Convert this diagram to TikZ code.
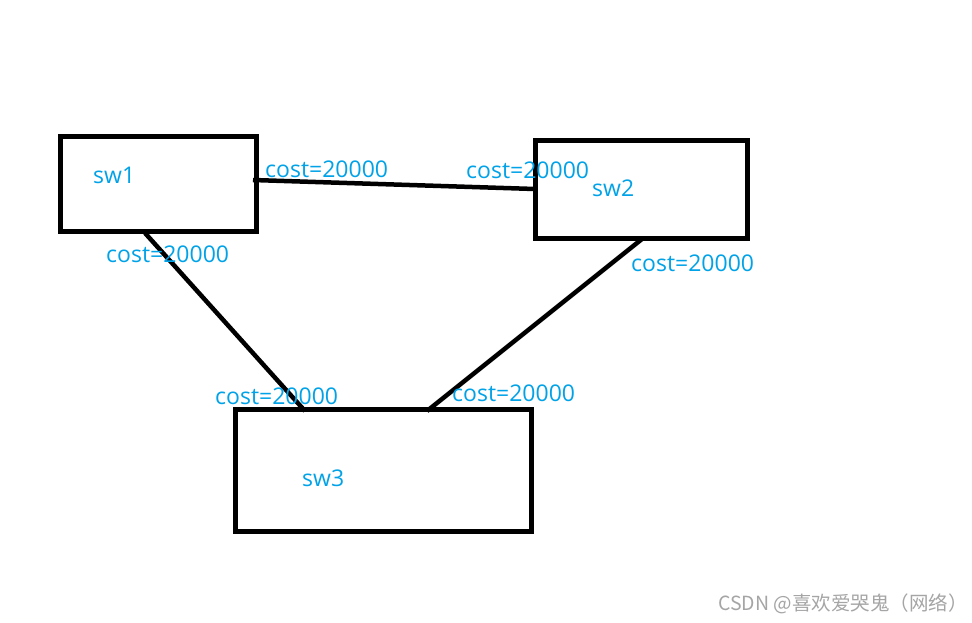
\documentclass[tikz,border=0pt]{standalone}
\usepackage{fontspec}
\newfontfamily\labfont{Open Sans}
\newfontfamily\cjk{Noto Sans CJK SC}
\definecolor{paintblue}{RGB}{0,162,232}
\definecolor{wmgray}{RGB}{165,165,165}
\tikzset{
  swbox/.style={draw=black, line width=5pt},
  link/.style={draw=black, line width=4.5pt},
  lbl/.style={anchor=base west, inner sep=0pt, text=paintblue, font=\labfont\fontsize{23}{23}\selectfont},
}
\begin{document}
\begin{tikzpicture}[x=1pt,y=-1pt]
\useasboundingbox[fill=white] (0,0) rectangle (972,622);
% boxes
\draw[swbox] (60.5,136.5) rectangle (256,231);
\draw[swbox] (535,140) rectangle (747,238);
\draw[swbox] (235.5,409) rectangle (531,531);
% endpoints
\coordinate (a1) at (253,180);
\coordinate (a2) at (535,189);
\coordinate (b1) at (145,233);
\coordinate (b3) at (305,411);
\coordinate (c2) at (642,239);
\coordinate (c3) at (427,411);
\draw[link] (a1) -- (a2);
\draw[link] (b1) -- (b3);
\draw[link] (c2) -- (c3);
% names
\node[lbl] (n1) at (93,183) {sw1};
\node[lbl] (n2) at (592,196) {sw2};
\node[lbl] (n3) at (302,486) {sw3};
% costs
\node[lbl] (l1) at (265,177) {cost=20000};
\node[lbl] (l2) at (466,178) {cost=20000};
\node[lbl] (l3) at (106,262) {cost=20000};
\node[lbl] (l4) at (631,271) {cost=20000};
\node[lbl] (l5) at (215,404) {cost=20000};
\node[lbl] (l6) at (452,401) {cost=20000};
% watermark
\node[anchor=base west, inner sep=0pt, text=wmgray, font=\cjk\fontsize{19.5}{19.5}\selectfont] (wm) at (718,610) {CSDN @喜欢爱哭鬼（网络）};
\end{tikzpicture}
\end{document}
